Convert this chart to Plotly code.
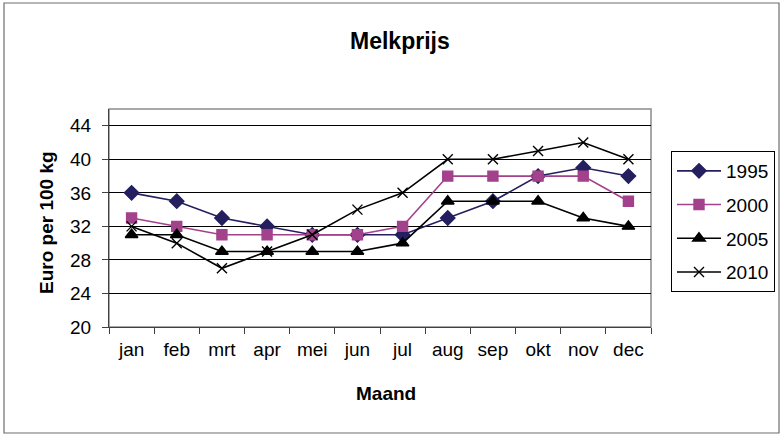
import plotly.graph_objects as go

months = ["jan", "feb", "mrt", "apr", "mei", "jun", "jul", "aug", "sep", "okt", "nov", "dec"]
y1995 = [36, 35, 33, 32, 31, 31, 31, 33, 35, 38, 39, 38]
y2000 = [33, 32, 31, 31, 31, 31, 32, 38, 38, 38, 38, 35]
y2005 = [31, 31, 29, 29, 29, 29, 30, 35, 35, 35, 33, 32]
y2010 = [32, 30, 27, 29, 31, 34, 36, 40, 40, 41, 42, 40]
y_ticks = [20, 24, 28, 32, 36, 40, 44]

FONT = "Liberation Sans, Arial, sans-serif"
W, H = 782, 436
L, R, T, B = 109, 131, 109, 109
pw, ph = W - L - R, H - T - B

def px2x(px):
    return (px - L) / pw

def px2y(py):
    return (H - B - py) / ph

series = [
    ("1995", y1995, "#241F5F", "diamond", 11),
    ("2000", y2000, "#A3418C", "square", 10),
    ("2005", y2005, "#000000", "triangle-up", 11),
    ("2010", y2010, "#000000", "x-thin-open", 10),
]

fig = go.Figure()
for name, ys, col, sym, sz in series:
    fig.add_trace(go.Scatter(
        x=months, y=ys, name=name, mode="lines+markers",
        legendgroup=name,
        line=dict(color=col, width=1.6),
        marker=dict(symbol=sym, size=sz, color=col, line=dict(color=col, width=1.4)),
    ))

fig.update_layout(
    width=W, height=H,
    margin=dict(l=L, r=R, t=T, b=B, autoexpand=False),
    paper_bgcolor="white", plot_bgcolor="white",
    font=dict(family=FONT, size=18, color="black"),
    showlegend=True,
    legend=dict(
        x=px2x(671), y=px2y(151), xanchor="left", yanchor="top",
        bordercolor="black", borderwidth=1, bgcolor="white",
        font=dict(size=19, family=FONT), tracegroupgap=6, itemwidth=44,
    ),
    xaxis=dict(
        type="category", range=[-0.5, 11.5], showgrid=False,
        ticks="outside", ticklen=6, tickcolor="#404040", tickson="boundaries",
        showline=True, linecolor="#404040", linewidth=1,
        tickfont=dict(size=19, family=FONT), ticklabelstandoff=5,
    ),
    yaxis=dict(
        range=[20, 46], tickvals=y_ticks, showgrid=True, gridcolor="black", gridwidth=1,
        ticks="outside", ticklen=6, tickcolor="#404040", zeroline=False,
        showline=True, linecolor="#404040", linewidth=1,
        tickfont=dict(size=19, family=FONT), ticklabelstandoff=7,
    ),
    shapes=[
        dict(type="rect", xref="paper", yref="paper", x0=0, x1=1, y0=0, y1=1,
             line=dict(color="#8c8c8c", width=1.5), layer="below"),
        dict(type="rect", xref="paper", yref="paper",
             x0=px2x(4), x1=px2x(779), y0=px2y(433), y1=px2y(3),
             line=dict(color="#6e6e6e", width=1.2), layer="below"),
    ],
    annotations=[
        dict(text="<b>Melkprijs</b>", xref="paper", yref="paper", x=px2x(400), y=px2y(41),
             xanchor="center", yanchor="middle", showarrow=False,
             font=dict(size=23, family=FONT)),
        dict(text="<b>Maand</b>", xref="paper", yref="paper", x=px2x(386), y=px2y(393),
             xanchor="center", yanchor="middle", showarrow=False,
             font=dict(size=19, family=FONT)),
        dict(text="<b>Euro per 100 kg</b>", xref="paper", yref="paper", x=px2x(46), y=px2y(223),
             xanchor="center", yanchor="middle", showarrow=False, textangle=-90,
             font=dict(size=19, family=FONT)),
    ],
)

fig.write_html("out.html", config={"displayModeBar": False},
               post_script="document.body.style.margin='0';")
